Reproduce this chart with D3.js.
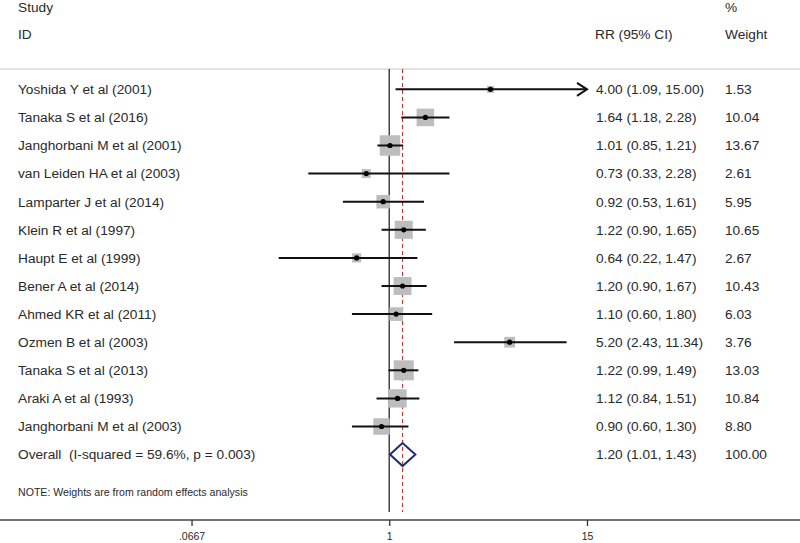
<!DOCTYPE html>
<html>
<head>
<meta charset="utf-8">
<script src="https://cdn.jsdelivr.net/npm/d3@7"></script>
<style>
  html, body { margin: 0; padding: 0; background: #fff; }
  svg { display: block; }
  text { font-family: "Liberation Sans", Arial, sans-serif; fill: #2a2a2a; }
</style>
</head>
<body>
<svg id="chart" width="800" height="543"></svg>
<script>
const studies = [
  "Yoshida Y et al (2001)",
  "Tanaka S et al (2016)",
  "Janghorbani M et al (2001)",
  "van Leiden HA et al (2003)",
  "Lamparter J et al (2014)",
  "Klein R et al (1997)",
  "Haupt E et al (1999)",
  "Bener A et al (2014)",
  "Ahmed KR et al (2011)",
  "Ozmen B et al (2003)",
  "Tanaka S et al (2013)",
  "Araki A et al (1993)",
  "Janghorbani M et al (2003)"
];
const rr     = [4.00, 1.64, 1.01, 0.73, 0.92, 1.22, 0.64, 1.20, 1.10, 5.20, 1.22, 1.12, 0.90];
const lower  = [1.09, 1.18, 0.85, 0.33, 0.53, 0.90, 0.22, 0.90, 0.60, 2.43, 0.99, 0.84, 0.60];
const upper  = [15.00, 2.28, 1.21, 2.28, 1.61, 1.65, 1.47, 1.67, 1.80, 11.34, 1.49, 1.51, 1.30];
const weights = [1.53, 10.04, 13.67, 2.61, 5.95, 10.65, 2.67, 10.43, 6.03, 3.76, 13.03, 10.84, 8.80];
const overallLabel = "Overall  (I-squared = 59.6%, p = 0.003)";
const overallRR = 1.20, overallLo = 1.01, overallHi = 1.43, overallWeight = 100.00;
const tickValues = [0.0667, 1, 15];
const tickLabels = [".0667", "1", "15"];
const noteText = "NOTE: Weights are from random effects analysis";

const svg = d3.select("#chart");
const x = d3.scaleLog().domain([1/15, 15]).range([191.5, 587]);
const y = d3.scaleLinear().domain([0, 13]).range([89.3, 454.6]);
const side = d3.scaleSqrt().domain([0, 13.67]).range([0, 20.5]);
const fmt = d3.format(".2f");
const FS = 13.7;

// Header
const hdr = svg.append("g").style("font-size", FS + "px");
hdr.append("text").attr("x", 18).attr("y", 11.5).text("Study");
hdr.append("text").attr("x", 18).attr("y", 38.5).text("ID");
hdr.append("text").attr("x", 595).attr("y", 38.5).text("RR (95% CI)");
hdr.append("text").attr("x", 725).attr("y", 11.5).text("%");
hdr.append("text").attr("x", 725).attr("y", 38.5).text("Weight");

// separator
svg.append("line").attr("x1", 0).attr("x2", 800).attr("y1", 69).attr("y2", 69)
  .attr("stroke", "#c8c8c8").attr("stroke-width", 1.2);

// null line at 1
svg.append("line").attr("x1", x(1)).attr("x2", x(1)).attr("y1", 69).attr("y2", 512)
  .attr("stroke", "#444").attr("stroke-width", 1.5);

// overall dashed line
svg.append("line").attr("x1", x(overallRR)).attr("x2", x(overallRR)).attr("y1", 69).attr("y2", 512)
  .attr("stroke", "#c0393b").attr("stroke-width", 1.1).attr("stroke-dasharray", "4,3");

const data = studies.map((s, i) => ({ s, rr: rr[i], lo: lower[i], hi: upper[i], w: weights[i], i }));

// squares
svg.append("g").selectAll("rect").data(data).join("rect")
  .attr("x", d => x(d.rr) - side(d.w) / 2)
  .attr("y", d => y(d.i) - side(d.w) / 2)
  .attr("width", d => side(d.w))
  .attr("height", d => side(d.w))
  .attr("fill", "#bdbdbd");

// CI lines
svg.append("g").selectAll("line").data(data).join("line")
  .attr("x1", d => x(d.lo)).attr("x2", d => x(Math.min(d.hi, 15)))
  .attr("y1", d => y(d.i)).attr("y2", d => y(d.i))
  .attr("stroke", "#111").attr("stroke-width", 2);

// arrow for truncated CI
data.filter(d => d.hi >= 15).forEach(d => {
  const xe = x(15), yy = y(d.i);
  svg.append("path")
    .attr("d", `M${xe - 10},${yy - 6.5} L${xe},${yy} L${xe - 10},${yy + 6.5}`)
    .attr("fill", "none").attr("stroke", "#111").attr("stroke-width", 2);
});

// points
svg.append("g").selectAll("circle").data(data).join("circle")
  .attr("cx", d => x(d.rr)).attr("cy", d => y(d.i)).attr("r", 2.6)
  .attr("fill", "#000");

// diamond
const yo = y(13);
svg.append("path")
  .attr("d", `M${x(overallLo)},${yo} L${x(overallRR)},${yo - 11.5} L${x(overallHi)},${yo} L${x(overallRR)},${yo + 11.5} Z`)
  .attr("fill", "none").attr("stroke", "#1f2a78").attr("stroke-width", 2);

// labels
const lab = svg.append("g").style("font-size", FS + "px");
lab.selectAll("text.name").data(data).join("text").attr("class", "name")
  .attr("x", 18).attr("y", d => y(d.i) + 4.8).text(d => d.s);
lab.selectAll("text.ci").data(data).join("text").attr("class", "ci")
  .attr("x", 596).attr("y", d => y(d.i) + 4.8)
  .text(d => `${fmt(d.rr)} (${fmt(d.lo)}, ${fmt(d.hi)})`);
lab.selectAll("text.wt").data(data).join("text").attr("class", "wt")
  .attr("x", 725).attr("y", d => y(d.i) + 4.8).text(d => fmt(d.w));

lab.append("text").attr("x", 18).attr("y", yo + 4.8).attr("xml:space", "preserve")
  .style("white-space", "pre").text(overallLabel);
lab.append("text").attr("x", 596).attr("y", yo + 4.8)
  .text(`${fmt(overallRR)} (${fmt(overallLo)}, ${fmt(overallHi)})`);
lab.append("text").attr("x", 725).attr("y", yo + 4.8).text(fmt(overallWeight));

// note
svg.append("text").attr("x", 18).attr("y", 495.5).style("font-size", "10.6px").text(noteText);

// axis
svg.append("line").attr("x1", 0).attr("x2", 800).attr("y1", 520).attr("y2", 520)
  .attr("stroke", "#444").attr("stroke-width", 1.3);
const axis = d3.axisBottom(x).tickValues(tickValues).tickSize(6)
  .tickFormat((d, i) => tickLabels[i]);
const ag = svg.append("g").attr("transform", "translate(0,520)").call(axis);
ag.select(".domain").remove();
ag.selectAll(".tick line").attr("stroke", "#333").attr("stroke-width", 1.3);
ag.selectAll(".tick text").attr("y", 13).attr("dy", "0.71em")
  .style("font-family", "'Liberation Sans', Arial, sans-serif")
  .style("font-size", "10.5px").attr("fill", "#333");
</script>
</body>
</html>
